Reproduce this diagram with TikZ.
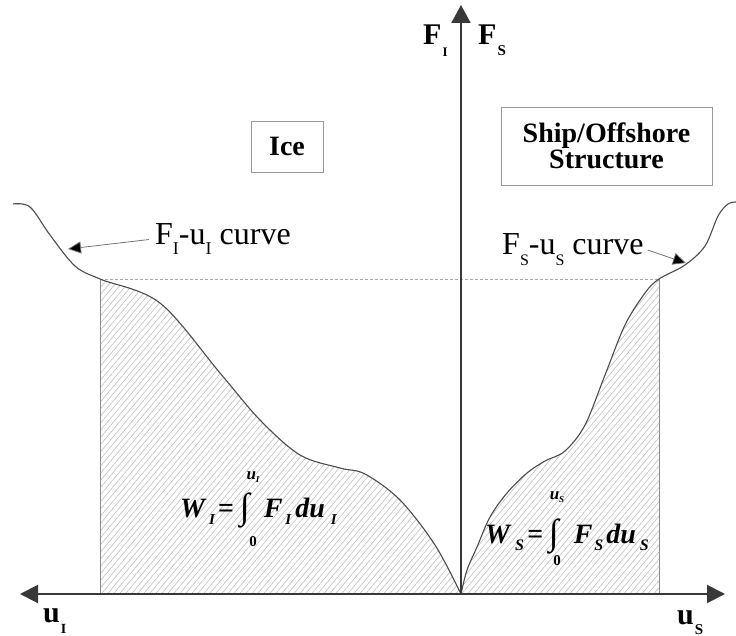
\documentclass[tikz,border=0pt]{standalone}
\usepackage{fontspec}
\setmainfont{Liberation Serif}
\usepackage{graphicx}
\usetikzlibrary{arrows.meta,patterns.meta}
\newcommand{\sbx}[3]{\raisebox{-#1pt}{\fontsize{#2}{#2}\selectfont #3}}
\newcommand{\intglyph}{{\fontsize{36}{36}\selectfont\bfseries\upshape\raisebox{-1.5pt}{∫}}}
\begin{document}
\begin{tikzpicture}[x=1pt,y=-1pt,
  axis/.style={draw=black!78, line width=2pt},
  curve/.style={draw=black!70, line width=1.1pt},
  guide/.style={draw=black!45, line width=0.8pt},
  dashguide/.style={draw=black!35, line width=0.8pt, dash pattern=on 3pt off 2pt},
  hatch/.style={pattern={Lines[angle=50,distance=4.6pt,line width=0.6pt]}, pattern color=black!25},
  labelbox/.style={draw=black!40, line width=0.8pt, fill=white, inner sep=0pt, align=center},
  pointer/.style={draw=black!55, line width=0.8pt, -{Triangle[length=13pt,width=12pt,fill=black]}},
  lbl/.style={anchor=base west, inner sep=0pt, text=black},
  limfont/.style={font=\fontsize{17}{17}\selectfont\bfseries\itshape, inner sep=0pt},
  zerofont/.style={font=\fontsize{15}{15}\selectfont\bfseries, inner sep=0pt},
]
\useasboundingbox (0,0) rectangle (736,636);

% coordinates
\coordinate (O) at (461,594);
\coordinate (Yt) at (461,5);
\coordinate (Xl) at (20,594);
\coordinate (Xr) at (725,594);

% hatched regions
\begin{scope}
\clip (100,0) rectangle (461,594);
\fill[hatch] plot[smooth,tension=0.55] coordinates {(13,204) (30,207) (50,235) (75,266) (100,279) (160,303) (220,373) (260,420) (300,455) (340,468) (365,474) (400,500) (435,545) (461,594)} -- (13,594) -- cycle;
\end{scope}
\begin{scope}
\clip (461,0) rectangle (659,594);
\fill[hatch] plot[smooth,tension=0.55] coordinates {(461,594) (467,570) (477,547) (490,517) (507,493) (527,473) (545,461) (565,451) (585,425) (605,375) (625,325) (645,293) (659,279) (685,265) (705,246) (718,216) (728,204) (736,202)} -- (736,594) -- cycle;
\end{scope}

% guides
\draw[dashguide] (100,279) -- (659,279);
\draw[guide] (100,279) -- (100,594);
\draw[guide] (659,279) -- (659,594);

% curves
\draw[curve] plot[smooth,tension=0.55] coordinates {(13,204) (30,207) (50,235) (75,266) (100,279) (160,303) (220,373) (260,420) (300,455) (340,468) (365,474) (400,500) (435,545) (461,594)};
\draw[curve] plot[smooth,tension=0.55] coordinates {(461,594) (467,570) (477,547) (490,517) (507,493) (527,473) (545,461) (565,451) (585,425) (605,375) (625,325) (645,293) (659,279) (685,265) (705,246) (718,216) (728,204) (736,202)};

% axes
\draw[axis, {Triangle[length=18pt,width=18pt]}-{Triangle[length=18pt,width=18pt]}] (Xl) -- (Xr);
\draw[axis, -{Triangle[length=18pt,width=19pt]}] (O) -- (Yt);

% axis labels
\node[lbl, font=\fontsize{30}{30}\selectfont\bfseries] (FI) at (423,45) {F\kern1pt\sbx{12}{13}{I}};
\node[lbl, font=\fontsize{30}{30}\selectfont\bfseries] (FS) at (478,45) {F\kern1pt\sbx{11}{15}{S}};
\node[lbl, font=\fontsize{30}{30}\selectfont\bfseries] (uI) at (43,622) {u\kern1pt\sbx{11}{14}{I}};
\node[lbl, font=\fontsize{30}{30}\selectfont\bfseries] (uS) at (677,624) {u\kern1pt\sbx{10}{15}{S}};

% boxes
\node[labelbox, minimum width=72pt, minimum height=51pt, font=\fontsize{28}{28}\selectfont\bfseries] (ice) at (287,146.5) {Ice};
\node[labelbox, minimum width=211pt, minimum height=78pt, font=\fontsize{28}{24}\selectfont\bfseries] (ship) at (606.5,146) {Ship/Offshore\\Structure};

% curve labels
\node[lbl, font=\fontsize{32}{32}\selectfont] (lblI) at (155,245) {F\sbx{10}{18}{I}-u\sbx{10}{18}{I} curve};
\node[lbl, font=\fontsize{32}{32}\selectfont] (lblS) at (502,255) {F\sbx{11}{16}{S}-u\sbx{11}{16}{S} curve};
\coordinate (tipI) at (68,249);
\coordinate (tipS) at (686,263);
\draw[pointer] ([xshift=-6pt]lblI.west) -- (tipI);
\draw[pointer] ([xshift=4pt]lblS.east) -- (tipS);

% formulas
\node[lbl, font=\fontsize{28}{28}\selectfont\bfseries\itshape] (WI) at (180,517)
  {W\kern4pt\sbx{7}{15}{I}\kern3pt=\kern6pt\intglyph\kern14pt F\kern3pt\sbx{7}{15}{I}\kern4pt du\kern6pt\sbx{7}{15}{I}};
\node[limfont] (WIup) at (253,477) {u\sbx{3}{9}{I}};
\node[zerofont] (WIlo) at (253,542) {0};

\node[lbl, font=\fontsize{28}{28}\selectfont\bfseries\itshape] (WS) at (485,543)
  {W\kern5pt\sbx{7}{16}{S}\kern3pt=\kern6pt\intglyph\kern15pt F\kern2pt\sbx{7}{16}{S}\kern3pt du\kern4pt\sbx{7}{16}{S}};
\node[limfont] (WSup) at (557,497) {u\sbx{3}{9}{S}};
\node[zerofont] (WSlo) at (557,561) {0};
\end{tikzpicture}
\end{document}
